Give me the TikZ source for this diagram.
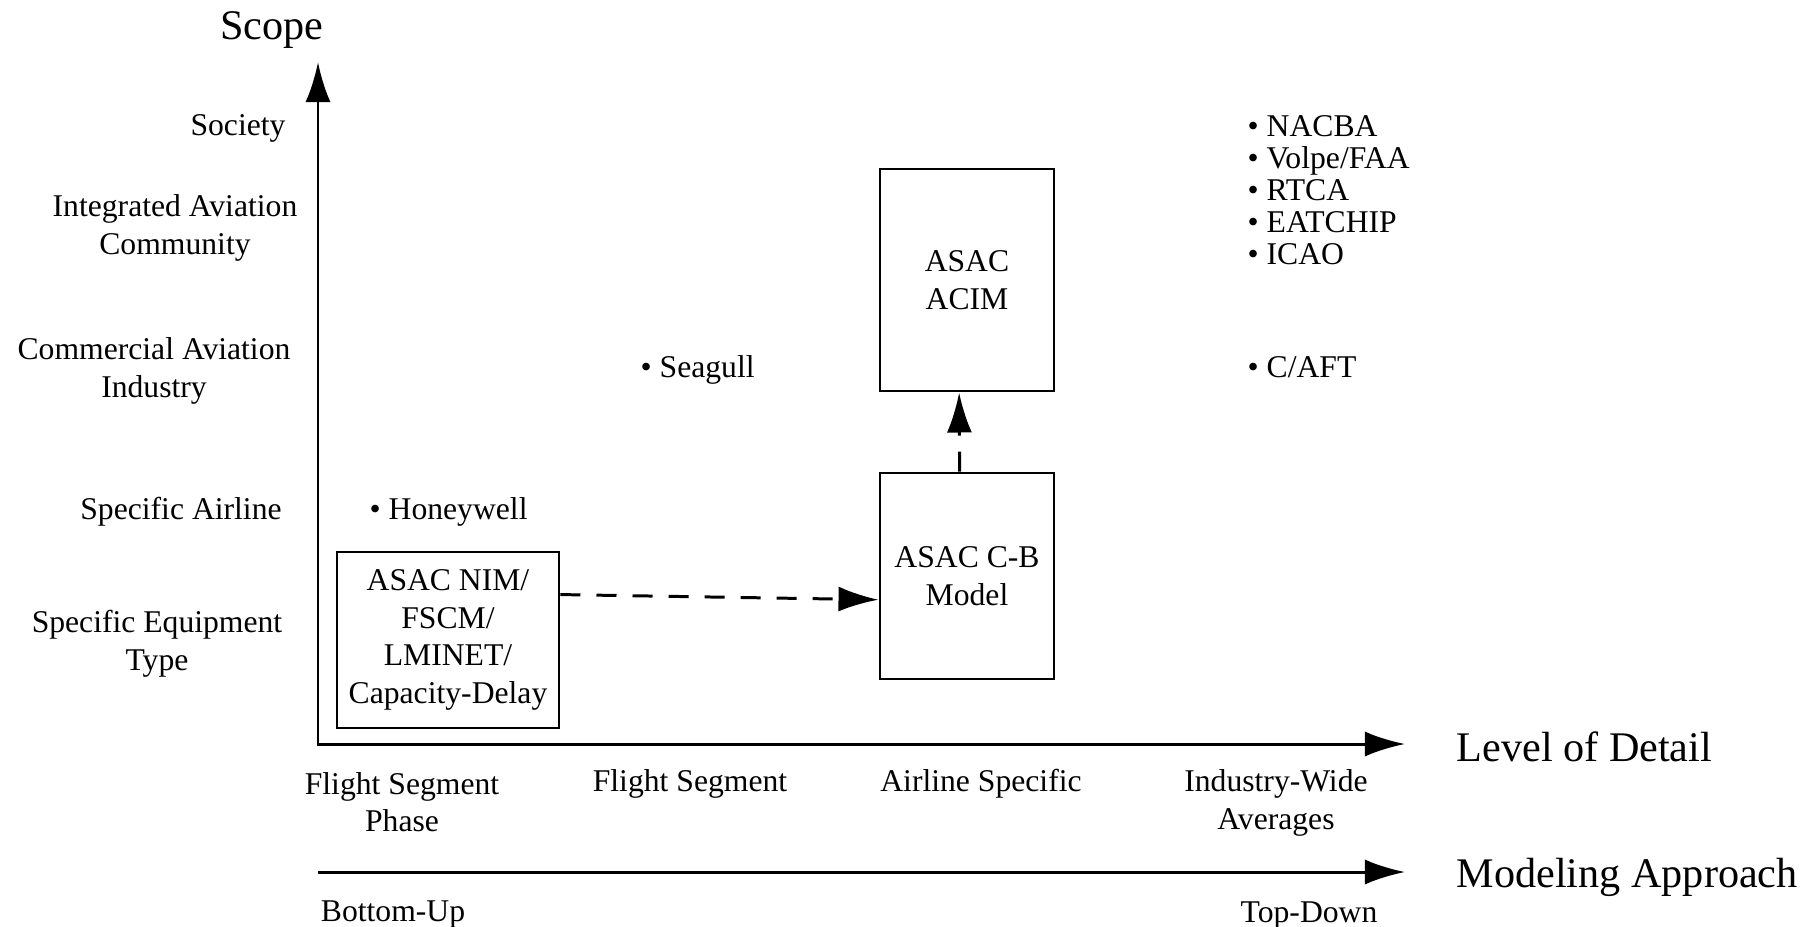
\documentclass[tikz,border=0pt]{standalone}
\usepackage{fontspec}
\setmainfont{Liberation Serif}
\usepackage{tikz}
\usetikzlibrary{arrows.meta}

\begin{document}
\begin{tikzpicture}[x=0.01cm, y=-0.01cm,
    >={Latex[length=0.4cm,width=0.25cm]},
    lbl/.style={font=\fontsize{9}{10.7}\selectfont, align=center, inner sep=0pt},
    item/.style={font=\fontsize{9}{9.1}\selectfont, align=left, anchor=west, inner sep=0pt},
    big/.style={font=\fontsize{12}{14}\selectfont, inner sep=0pt},
    model/.style={draw, line width=0.8pt, inner sep=0pt, font=\fontsize{9}{10.7}\selectfont, align=center},
    axis/.style={line width=0.85pt},
    link/.style={line width=0.85pt, dash pattern=on 0.2cm off 0.16cm, ->}]
  \useasboundingbox (0,0) rectangle (1820,926);

  \coordinate (O) at (318,744);
  \coordinate (ytip) at (318,62);
  \coordinate (xtip) at (1405,744);
  \coordinate (mstart) at (318,872);
  \coordinate (mend) at (1405,872);
  \draw[axis, <->] (ytip) -- (O) -- (xtip);
  \draw[axis, ->] (mstart) -- (mend);

  \node (scope) at (272,30) [big] {Scope};
  \node (detail) at (1456,747) [big, anchor=west] {Level of Detail};
  \node (approach) at (1456,877) [big, anchor=west] {Modeling Approach};

  \node (society) at (238,128) [lbl] {Society};
  \node (iac) at (175,228) [lbl] {Integrated Aviation\\Community};
  \node (cai) at (154,371) [lbl] {Commercial Aviation\\Industry};
  \node (airline) at (181,512) [lbl] {Specific Airline};
  \node (equip) at (157,644) [lbl] {Specific Equipment\\Type};

  \node (fsp) at (402,802) [lbl] {Flight Segment\\Phase};
  \node (fs) at (690,784) [lbl] {Flight Segment};
  \node (as) at (981,784) [lbl] {Airline Specific};
  \node (iwa) at (1276,803) [lbl] {Industry-Wide\\Averages};
  \node (bu) at (393,914) [lbl] {Bottom-Up};
  \node (td) at (1309,915) [lbl] {Top-Down};

  \node (honeywell) at (369,512) [item] {\textbullet\ Honeywell};
  \node (seagull) at (640,370) [item] {\textbullet\ Seagull};
  \node (caft) at (1247,367) [item] {\textbullet\ C/AFT};
  \node (others) at (1247,190) [item] {\textbullet\ NACBA\\\textbullet\ Volpe/FAA\\\textbullet\ RTCA\\\textbullet\ EATCHIP\\\textbullet\ ICAO};

  \node (NIM) at (448,640) [model, minimum width=2.22cm, minimum height=1.76cm] {ASAC NIM/\\FSCM/\\LMINET/\\Capacity-Delay};
  \node (CB) at (967,576) [model, minimum width=1.74cm, minimum height=2.06cm] {ASAC C-B\\Model};
  \node (ACIM) at (967,280) [model, minimum width=1.74cm, minimum height=2.22cm] {ASAC\\ACIM};

  \draw[link] (NIM.22) -- (CB.195);
  \draw[link] (CB.94) -- (ACIM.266);

\end{tikzpicture}
\end{document}
